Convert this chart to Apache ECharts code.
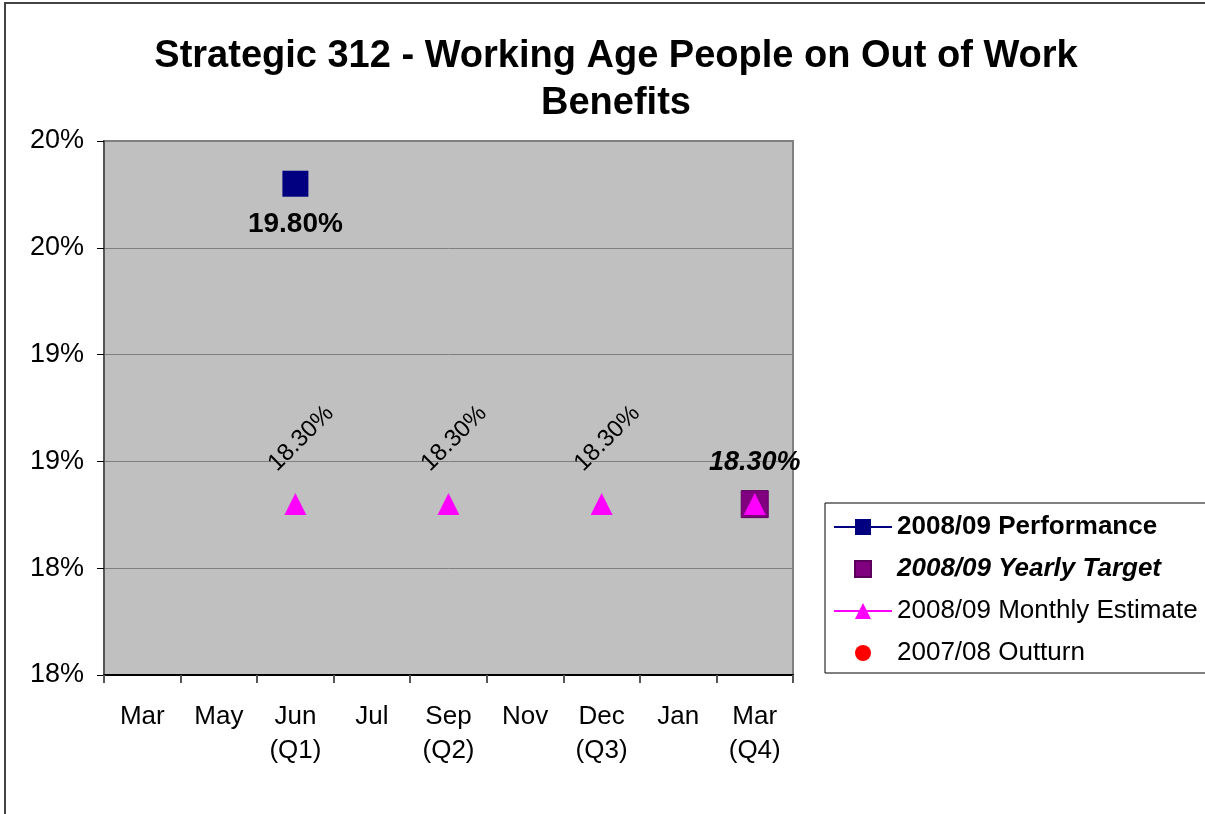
<!DOCTYPE html>
<html>
<head>
<meta charset="utf-8">
<script src="https://cdn.jsdelivr.net/npm/echarts@6/dist/echarts.min.js"></script>
<style>
  html, body { margin: 0; padding: 0; background: #fff; }
  #chart { width: 1205px; height: 814px; }
</style>
</head>
<body>
<div id="chart"></div>
<script>
// categories along the x axis
const months = ['Mar', 'May', 'Jun\n(Q1)', 'Jul', 'Sep\n(Q2)', 'Nov', 'Dec\n(Q3)', 'Jan', 'Mar\n(Q4)']
// series values (percent), null = no point
const performance = [null, null, 19.8, null, null, null, null, null, null]
const yearlyTarget = [null, null, null, null, null, null, null, null, 18.3]
const monthlyEstimate = [null, null, 18.3, null, 18.3, null, 18.3, null, 18.3]
const outturn = [null, null, null, null, null, null, null, null, null]

const seriesNames = ['2008/09 Performance', '2008/09 Yearly Target', '2008/09 Monthly Estimate', '2007/08 Outturn']

const font = 'Arial, "Liberation Sans", sans-serif'

const myChart = echarts.init(document.getElementById('chart'))

// the last estimate point sits under the target, its label is not shown
const estimateData = monthlyEstimate.map((v, i) => {
  return i === monthlyEstimate.length - 1 ? { value: v, label: { show: false } } : v
})

const option = {
  animation: false,
  backgroundColor: '#fff',
  textStyle: { fontFamily: font, color: '#000' },
  title: {
    text: 'Strategic 312 - Working Age People on Out of Work\nBenefits',
    left: 611,
    top: 28,
    textAlign: 'center',
    textStyle: { fontSize: 38, fontWeight: 'bold', lineHeight: 47, color: '#000', fontFamily: font }
  },
  // outer frame of the chart area
  graphic: [{
    type: 'rect',
    shape: { x: 5, y: 3, width: 1400, height: 1000 },
    style: { fill: 'none', stroke: '#444', lineWidth: 2 },
    silent: true
  }],
  legend: {
    left: 825,
    top: 503,
    orient: 'vertical',
    backgroundColor: '#fff',
    borderColor: '#000',
    borderWidth: 1,
    borderRadius: 0,
    padding: [11, 10, 7, 8],
    itemWidth: 58,
    itemHeight: 20,
    itemGap: 16,
    textStyle: { fontSize: 26, color: '#000', fontFamily: font },
    data: [
      { name: seriesNames[0], textStyle: { fontWeight: 'bold' } },
      { name: seriesNames[1], textStyle: { fontWeight: 'bold', fontStyle: 'italic' } },
      { name: seriesNames[2] },
      { name: seriesNames[3] }
    ]
  },
  grid: {
    left: 104,
    top: 141,
    right: 412,
    bottom: 139,
    show: true,
    backgroundColor: '#C0C0C0',
    borderColor: '#808080',
    borderWidth: 2
  },
  xAxis: {
    type: 'category',
    data: months,
    boundaryGap: true,
    axisLine: { lineStyle: { color: '#000', width: 2 } },
    axisTick: { show: true, length: 8, inside: false, lineStyle: { color: '#555', width: 2 } },
    axisLabel: { fontSize: 26, lineHeight: 34, color: '#000', margin: 25, interval: 0 },
    splitLine: { show: false }
  },
  yAxis: {
    type: 'value',
    min: 17.5,
    max: 20,
    interval: 0.5,
    axisLine: { show: true, lineStyle: { color: '#555', width: 2 } },
    axisTick: { show: true, length: 7, lineStyle: { color: '#000' } },
    axisLabel: {
      fontSize: 27,
      color: '#000',
      margin: 20,
      formatter: v => Math.round(v) + '%'
    },
    splitLine: { show: true, lineStyle: { color: '#808080', width: 1 } }
  },
  series: [
    {
      name: seriesNames[0],
      type: 'line',
      data: performance,
      symbol: 'rect',
      symbolSize: 26,
      itemStyle: { color: '#000080' },
      lineStyle: { color: '#000080', width: 3 },
      label: {
        show: true,
        position: 'bottom',
        distance: 14,
        fontSize: 28,
        fontWeight: 'bold',
        color: '#000',
        formatter: p => p.value.toFixed(2) + '%'
      }
    },
    {
      name: seriesNames[1],
      type: 'line',
      data: yearlyTarget,
      symbol: 'rect',
      symbolSize: 27,
      itemStyle: { color: '#800080', borderColor: '#5c005c', borderWidth: 1 },
      lineStyle: { width: 0 },
      label: {
        show: true,
        position: 'top',
        distance: 14,
        fontSize: 27,
        fontWeight: 'bold',
        fontStyle: 'italic',
        color: '#000',
        formatter: p => p.value.toFixed(2) + '%'
      }
    },
    {
      name: seriesNames[2],
      type: 'line',
      data: estimateData,
      symbol: 'triangle',
      symbolSize: 22,
      itemStyle: { color: '#FF00FF' },
      lineStyle: { color: '#FF00FF', width: 2 },
      label: {
        show: true,
        position: 'top',
        distance: 49,
        offset: [8, 0],
        rotate: 45,
        align: 'center',
        verticalAlign: 'middle',
        fontSize: 24,
        color: '#000',
        formatter: p => p.value.toFixed(2) + '%'
      }
    },
    {
      name: seriesNames[3],
      type: 'line',
      data: outturn,
      symbol: 'circle',
      symbolSize: 16,
      itemStyle: { color: '#FF0000' },
      lineStyle: { width: 0 }
    }
  ]
}

myChart.setOption(option)
window.addEventListener('resize', () => { myChart.resize() })
</script>
</body>
</html>
